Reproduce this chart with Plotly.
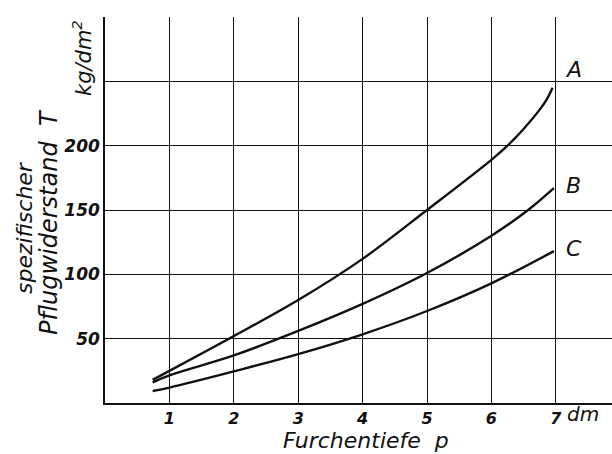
import plotly.graph_objects as go

# Data
depth_A = [0.74, 1, 2, 3, 4, 5, 6, 6.25, 6.5, 6.75, 6.86, 6.95]
resist_A = [18, 25, 52, 80, 112, 150, 189, 200, 213, 228, 236, 245]
depth_B = [0.74, 1, 2, 3, 4, 5, 6, 6.57, 6.97]
resist_B = [16, 21.5, 37, 56, 77, 101, 130, 150, 167]
depth_C = [0.74, 1, 2, 3, 4, 5, 6, 6.97]
resist_C = [9.3, 12, 24.6, 38, 53.4, 71.5, 93, 118]
curve_names = ["A", "B", "C"]
label_pos_y = [259, 169, 120]

x_tick_vals = [0, 1, 2, 3, 4, 5, 6, 7]
x_tick_text = ["", "1", "2", "3", "4", "5", "6", "7"]
y_tick_vals = [0, 50, 100, 150, 200, 250, 300]
y_tick_text = ["", "50", "100", "150", "200", "", ""]

FONT = "DejaVu Sans"
INK = "#111111"

fig = go.Figure()
for xs, ys in [(depth_A, resist_A), (depth_B, resist_B), (depth_C, resist_C)]:
    fig.add_trace(go.Scatter(x=xs, y=ys, mode="lines",
                             line=dict(color=INK, width=2.4, shape="spline", smoothing=1.0),
                             showlegend=False, hoverinfo="skip"))

W, H = 612, 454
L, R, T, B = 105, 0, 17, 51
pw, ph = W - L - R, H - T - B

def px(x):
    return (x - L) / pw

def py(y):
    return (H - B - y) / ph

def ann(x, y, text, size, angle=0, xref="paper", yref="paper"):
    return dict(x=x, y=y, xref=xref, yref=yref, text=text, showarrow=False,
                textangle=angle, xanchor="center", yanchor="middle",
                font=dict(family=FONT, size=size, color=INK, style="italic"))

annotations = []
for name, yv in zip(curve_names, label_pos_y):
    annotations.append(ann(7.28, yv, name, 22, xref="x", yref="y"))
annotations.append(ann(px(583), py(414), "dm", 20))
annotations.append(ann(px(366), py(441), "Furchentiefe  p", 22))
annotations.append(ann(px(25), py(228), "spezifischer", 22, -90))
annotations.append(ann(px(49), py(222), "Pflugwiderstand  T", 24, -90))
annotations.append(ann(px(82), py(58), "kg/dm<sup>2</sup>", 21, -90))

fig.update_layout(
    width=W, height=H,
    margin=dict(l=L, r=R, t=T, b=B, pad=0),
    paper_bgcolor="white", plot_bgcolor="white",
    annotations=annotations,
    xaxis=dict(range=[0, pw / 64.4], tickvals=x_tick_vals, ticktext=x_tick_text,
               showgrid=True, gridcolor=INK, gridwidth=1.2, zeroline=False,
               showline=True, linecolor=INK, linewidth=2, ticks="",
               tickfont=dict(family=FONT, size=16, color=INK, style="italic", weight="bold")),
    yaxis=dict(range=[0, 300], tickvals=y_tick_vals, ticktext=y_tick_text,
               showgrid=True, gridcolor=INK, gridwidth=1.2, zeroline=False,
               showline=True, linecolor=INK, linewidth=1.5, ticks="",
               tickfont=dict(family=FONT, size=17, color=INK, style="italic", weight="bold")),
)

fig.write_html("out.html", config={"displayModeBar": False},
               post_script="document.body.style.margin='0';document.body.style.overflow='hidden';")
